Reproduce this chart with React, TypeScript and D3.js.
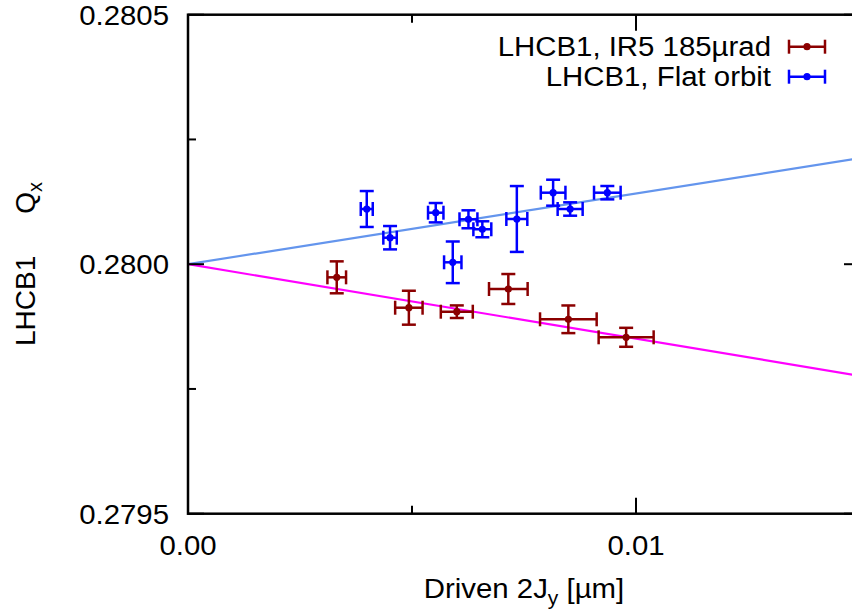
import React from "react";
import * as d3 from "d3";

// ---- data ----
const flatX = [0.00399, 0.00451, 0.00553, 0.00591, 0.00626, 0.00657, 0.00734, 0.00815, 0.00853, 0.00936];
const flatXErr = [0.000134, 0.00015, 0.000172, 0.000194, 0.0002, 0.0002, 0.000234, 0.000275, 0.000279, 0.000297];
const flatY = [0.2801106, 0.2800531, 0.2801032, 0.2800038, 0.280090, 0.280070, 0.2800906, 0.2801433, 0.2801106, 0.2801433];
const flatYErr = [3.6e-5, 2.34e-5, 1.94e-5, 4.17e-5, 1.8e-5, 1.6e-5, 6.6e-5, 2.6e-5, 1.34e-5, 1.34e-5];

const ir5X = [0.00332, 0.00493, 0.0060, 0.00715, 0.00849, 0.00978];
const ir5XErr = [0.000208, 0.000306, 0.000357, 0.000431, 0.000632, 0.000614];
const ir5Y = [0.2799737, 0.2799128, 0.2799048, 0.2799503, 0.2798896, 0.2798535];
const ir5YErr = [3.2e-5, 3.4e-5, 1.26e-5, 3.0e-5, 2.77e-5, 1.9e-5];

// linear fits Q = q0 + slope * 2Jy
const fitQ0 = 0.28;
const flatSlope = 0.01416;
const ir5Slope = -0.01493;

const xTickMajor = [0, 0.01];
const xTickLabels = ["0.00", "0.01"];
const xTickMinor = [0.005, 0.015];
const yTickMajor = [0.2795, 0.28, 0.2805];
const yTickLabels = ["0.2795", "0.2800", "0.2805"];
const yTickMinor = [0.27975, 0.28025];

const legendLabels = ["LHCB1, IR5 185\u00b5rad", "LHCB1, Flat orbit"];
const xTitleMain = "Driven 2J";
const xTitleSub = "y";
const xTitleTail = " [\u00b5m]";
const yTitleMain = "LHCB1";
const yTitleQ = "Q";
const yTitleSub = "x";

const W = 852;
const H = 614;
const L = 188, R = 860, T = 14.7, B = 513.7;
const FONT = "'Liberation Sans', Arial, sans-serif";
const RED = "#8b0000";
const BLUE = "#0000ff";
const SX = 1.05;

function HText({ x, y, anchor, children }: any) {
  return (
    <g transform={`translate(${x},${y}) scale(${SX},1)`}>
      <text x={0} y={0} textAnchor={anchor} fontSize={28} fill="#000">
        {children}
      </text>
    </g>
  );
}

export default function App() {
  const x = d3.scaleLinear().domain([0, 0.015]).range([L, R]);
  const y = d3.scaleLinear().domain([0.2795, 0.2805]).range([B, T]);
  const line = d3.line<number[]>().x((d) => x(d[0])).y((d) => y(d[1]));
  const cap = 7;

  const series = [
    { xs: ir5X, xe: ir5XErr, ys: ir5Y, ye: ir5YErr, color: RED },
    { xs: flatX, xe: flatXErr, ys: flatY, ye: flatYErr, color: BLUE },
  ];

  const errBars = (s: any, si: number) =>
    s.xs.map((xv: number, i: number) => {
      const cx = x(xv), cy = y(s.ys[i]);
      const x0 = x(xv - s.xe[i]), x1 = x(xv + s.xe[i]);
      const y0 = y(s.ys[i] - s.ye[i]), y1 = y(s.ys[i] + s.ye[i]);
      return (
        <g key={`${si}-${i}`} stroke={s.color} strokeWidth={2.5} fill="none">
          <line x1={x0} x2={x1} y1={cy} y2={cy} />
          <line x1={x0} x2={x0} y1={cy - cap} y2={cy + cap} />
          <line x1={x1} x2={x1} y1={cy - cap} y2={cy + cap} />
          <line x1={cx} x2={cx} y1={y0} y2={y1} />
          <line x1={cx - cap} x2={cx + cap} y1={y0} y2={y0} />
          <line x1={cx - cap} x2={cx + cap} y1={y1} y2={y1} />
          <circle cx={cx} cy={cy} r={3.6} fill={s.color} stroke="none" />
        </g>
      );
    });

  const flatLine = line([[0, fitQ0], [0.015, fitQ0 + flatSlope * 0.015]]);
  const ir5Line = line([[0, fitQ0], [0.015, fitQ0 + ir5Slope * 0.015]]);

  return (
    <svg width={W} height={H} style={{ position: "absolute", left: 0, top: 0, background: "#fff" }} fontFamily={FONT}>
      <defs>
        <clipPath id="plotclip">
          <rect x={L} y={T} width={R - L} height={B - T} />
        </clipPath>
      </defs>
      <g clipPath="url(#plotclip)">
        <path d={flatLine || ""} stroke="#6495ed" strokeWidth={2.2} fill="none" />
        <path d={ir5Line || ""} stroke="#ff00ff" strokeWidth={2.2} fill="none" />
      </g>
      {series.map((s, si) => errBars(s, si))}

      {/* frame */}
      <rect x={L} y={T} width={R - L} height={B - T} fill="none" stroke="#000" strokeWidth={2.5} />
      {xTickMajor.map((v) => (
        <g key={"xm" + v} stroke="#000" strokeWidth={2}>
          <line x1={x(v)} x2={x(v)} y1={B} y2={B - 16} />
          <line x1={x(v)} x2={x(v)} y1={T} y2={T + 16} />
        </g>
      ))}
      {xTickMinor.map((v) => (
        <g key={"xn" + v} stroke="#000" strokeWidth={2}>
          <line x1={x(v)} x2={x(v)} y1={B} y2={B - 8} />
          <line x1={x(v)} x2={x(v)} y1={T} y2={T + 8} />
        </g>
      ))}
      {yTickMajor.map((v) => (
        <g key={"ym" + v} stroke="#000" strokeWidth={2}>
          <line x1={L} x2={L + 16} y1={y(v)} y2={y(v)} />
          <line x1={R} x2={R - 16} y1={y(v)} y2={y(v)} />
        </g>
      ))}
      {yTickMinor.map((v) => (
        <g key={"yn" + v} stroke="#000" strokeWidth={2}>
          <line x1={L} x2={L + 8} y1={y(v)} y2={y(v)} />
          <line x1={R} x2={R - 8} y1={y(v)} y2={y(v)} />
        </g>
      ))}
      {xTickMajor.map((v, i) => (
        <HText key={"xl" + v} x={x(v)} y={555} anchor="middle">
          {xTickLabels[i]}
        </HText>
      ))}
      {yTickMajor.map((v, i) => (
        <HText key={"yl" + v} x={169} y={y(v) + 10} anchor="end">
          {yTickLabels[i]}
        </HText>
      ))}
      <HText x={524} y={598} anchor="middle">
        {xTitleMain}
        <tspan fontSize={20} dy={7}>{xTitleSub}</tspan>
        <tspan dy={-7}>{xTitleTail}</tspan>
      </HText>
      <text transform="translate(35,264) rotate(-90)" textAnchor="middle" fontSize={28} fill="#000">
        {yTitleMain}
        <tspan dx={42}>{yTitleQ}</tspan>
        <tspan fontSize={20} dy={7}>{yTitleSub}</tspan>
      </text>
      {legendLabels.map((lab, i) => {
        const ly = 46.7 + i * 30;
        const color = i === 0 ? RED : BLUE;
        return (
          <g key={lab}>
            <HText x={771} y={ly + 9.5} anchor="end">
              {lab}
            </HText>
            <g stroke={color} strokeWidth={2.5}>
              <line x1={789} x2={825} y1={ly} y2={ly} />
              <line x1={789} x2={789} y1={ly - 7} y2={ly + 7} />
              <line x1={825} x2={825} y1={ly - 7} y2={ly + 7} />
            </g>
            <circle cx={807} cy={ly} r={3.6} fill={color} />
          </g>
        );
      })}
    </svg>
  );
}
